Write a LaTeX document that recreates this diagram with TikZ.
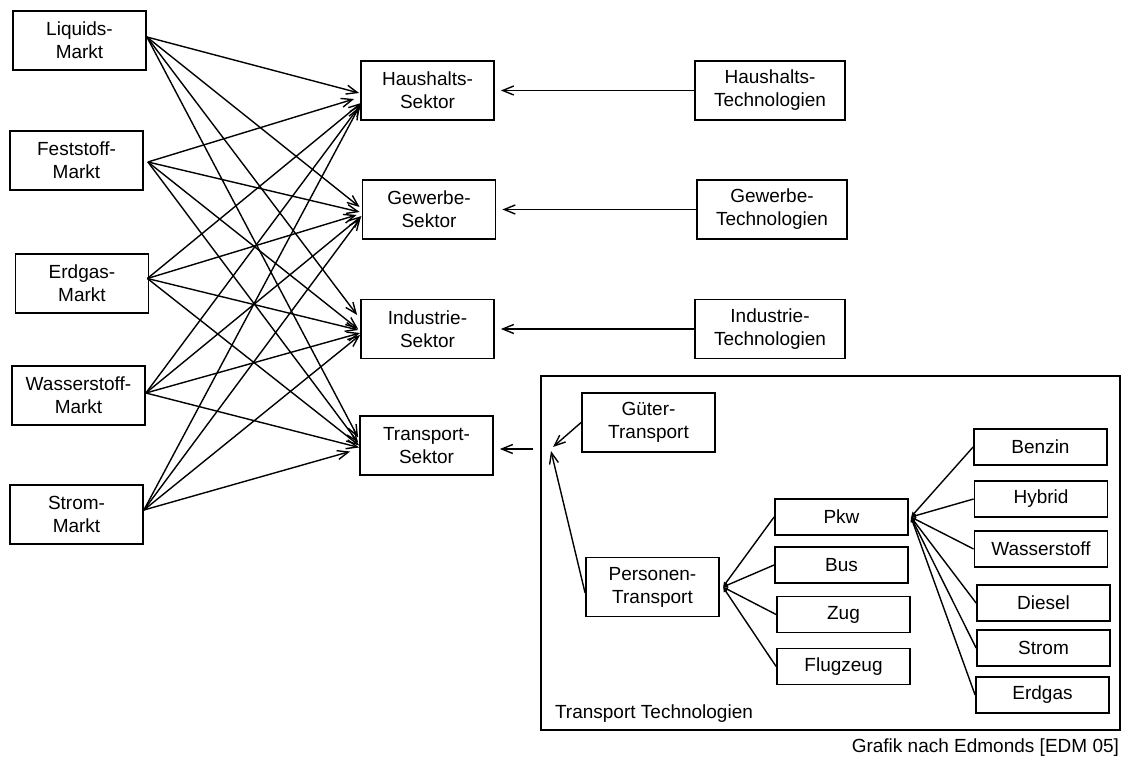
\documentclass[tikz,border=0pt]{standalone}
\usepackage{fontspec}
\setmainfont{Liberation Sans}
\usetikzlibrary{arrows.meta,calc}

\begin{document}
\begin{tikzpicture}[x=0.5pt,y=-0.5pt,
  every node/.style={font=\fontsize{9.5}{11.5}\selectfont},
  box/.style={draw, line width=0.9pt, align=center, inner sep=0pt,
              minimum width=66.5pt, minimum height=29.5pt},
  techbox/.style={box, minimum width=75pt},
  smallbox/.style={box, minimum height=18pt},
  feed/.style={line width=0.7pt,
               -{Straight Barb[length=5.5pt,width=4.5pt,line width=0.7pt]}},
  link/.style={line width=0.7pt, -{Latex[length=2.5pt,width=2.5pt]}}
]
\useasboundingbox (0,0) rectangle (1131,758);

% energy markets
\node[box] (liq) at (79.5,40.5)  {Liquids-\\Markt};
\node[box] (fes) at (76.5,160.5) {Feststoff-\\Markt};
\node[box] (erd) at (82,283.5)   {Erdgas-\\Markt};
\node[box] (wss) at (78.5,395.5) {Wasserstoff-\\Markt};
\node[box] (str) at (76.5,514.5) {Strom-\\Markt};

% demand sectors
\node[box] (hs) at (427.5,90.5) {Haushalts-\\Sektor};
\node[box] (gs) at (429,209.5)  {Gewerbe-\\Sektor};
\node[box] (is) at (427.5,329)  {Industrie-\\Sektor};
\node[box] (ts) at (426.5,445.5) {Transport-\\Sektor};

% sector technologies
\node[techbox] (ht) at (770,90.5)  {Haushalts-\\Technologien};
\node[techbox] (gt) at (772,209.5) {Gewerbe-\\Technologien};
\node[techbox] (it) at (770,329)   {Industrie-\\Technologien};

% transport technologies frame
\node[draw, line width=0.9pt, inner sep=0pt, minimum width=289.5pt,
      minimum height=177pt] (tframe) at (830.5,553) {};
\node[anchor=west] (tlabel) at (548,714) {Transport Technologien};

\node[box] (gue) at (648.5,422.5) {Güter-\\Transport};
\node[box] (per) at (652.5,587)   {Personen-\\Transport};

\node[smallbox] (pkw) at (841.5,517)   {Pkw};
\node[smallbox] (bus) at (841.5,565)   {Bus};
\node[smallbox] (zug) at (843.5,614.5) {Zug};
\node[smallbox] (flu) at (843.5,666.5) {Flugzeug};

\node[smallbox] (ben) at (1040.5,447) {Benzin};
\node[smallbox] (hyb) at (1041,499)   {Hybrid};
\node[smallbox] (wst) at (1041,549)   {Wasserstoff};
\node[smallbox] (die) at (1043.5,603) {Diesel};
\node[smallbox] (stf) at (1043.5,648) {Strom};
\node[smallbox] (egs) at (1042.5,695) {Erdgas};

\node[anchor=east] (credit) at (1126,748) {Grafik nach Edmonds [EDM 05]};

% market -> sector links
\foreach \src/\sx/\sy/\hx/\hy/\gx/\gy/\ix/\iy/\tx/\ty in {
    liq/0/-3.5/-1/2.5/-2/-2.5/-3/-14/-1/-8,
    fes/4/1.5/-6/8.5/-2/2.5/-2/0/-1/-3,
    erd/-2/-5/1/12.5/-5/5.5/-2/1/0/0,
    wss/0/-2.5/1/13.5/0/6.5/0/4/0/2,
    str/0/-4.5/-1/16.5/-1/8.5/0/6/-9/6} {
  \coordinate (o) at ($(\src.east)+(\sx,\sy)$);
  \draw[feed] (o) -- ($(hs.west)+(\hx,\hy)$);
  \draw[feed] (o) -- ($(gs.west)+(\gx,\gy)$);
  \draw[feed] (o) -- ($(is.west)+(\ix,\iy)$);
  \draw[feed] (o) -- ($(ts.west)+(\tx,\ty)$);
}

% technology -> sector links
\draw[feed, shorten >=3pt] (ht.west) -- (hs.east);
\draw[feed, shorten >=3pt] (gt.west) -- (gs.east);
\draw[feed, shorten >=3pt] (it.west) -- (is.east);
\coordinate (tout) at (533,449);
\draw[feed, shorten >=3pt] (tout) -- (ts.east |- tout);

% inside the transport frame
\coordinate (tin) at (552,449);
\draw[feed] (gue.west) -- ($(tin)+(1,-2)$);
\draw[feed] ($(per.west)+(0,6)$) -- ($(tin)+(-1,2)$);

\coordinate (pj) at ($(per.east)+(3,0)$);
\foreach \n in {pkw,bus,zug,flu} \draw[link] (\n.west) -- (pj);

\coordinate (kj) at ($(pkw.east)+(2,0)$);
\foreach \n in {ben,hyb,wst,die,stf,egs} \draw[link] (\n.west) -- (kj);
\end{tikzpicture}
\end{document}
